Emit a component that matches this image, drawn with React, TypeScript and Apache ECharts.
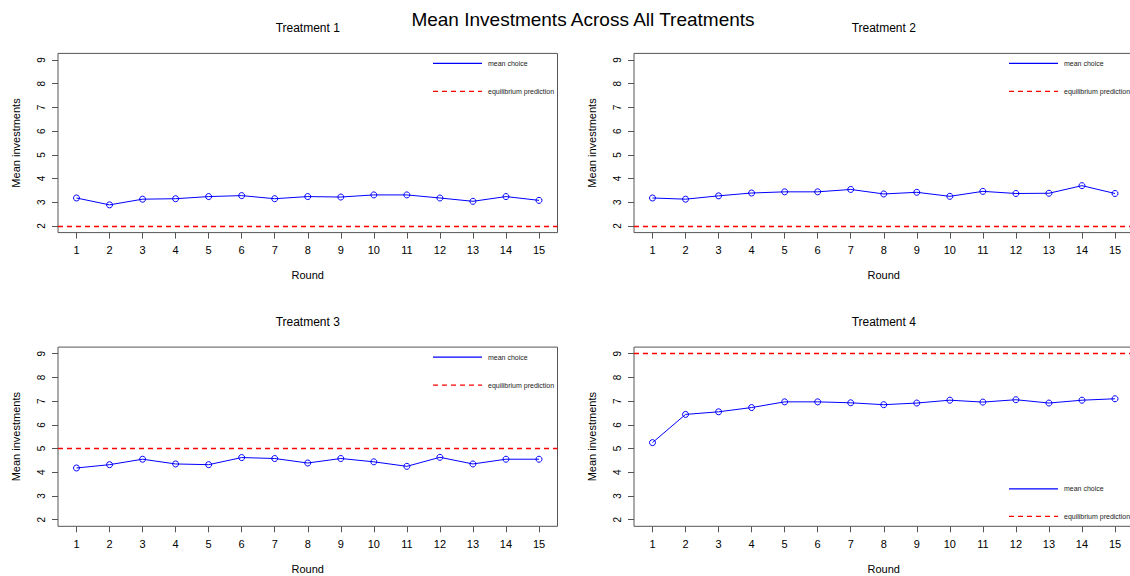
import React, { useEffect, useRef } from "react";
import * as echarts from "echarts";

const rounds = [1, 2, 3, 4, 5, 6, 7, 8, 9, 10, 11, 12, 13, 14, 15];
const yTicks = [2, 3, 4, 5, 6, 7, 8, 9];
const treatmentTitles = ["Treatment 1", "Treatment 2", "Treatment 3", "Treatment 4"];
const meanT1 = [3.18, 2.89, 3.13, 3.15, 3.24, 3.28, 3.15, 3.24, 3.22, 3.31, 3.31, 3.18, 3.04, 3.24, 3.08];
const meanT2 = [3.18, 3.13, 3.27, 3.39, 3.44, 3.44, 3.54, 3.35, 3.42, 3.25, 3.46, 3.37, 3.38, 3.7, 3.37];
const meanT3 = [4.18, 4.32, 4.55, 4.35, 4.32, 4.62, 4.58, 4.39, 4.58, 4.44, 4.25, 4.63, 4.35, 4.55, 4.55];
const meanT4 = [5.25, 6.44, 6.55, 6.73, 6.97, 6.97, 6.93, 6.85, 6.92, 7.04, 6.96, 7.06, 6.92, 7.04, 7.1];
const equilibrium = [2, 2, 5, 9];
const legendLabels = ["mean choice", "equilibrium prediction"];
const mainTitle = "Mean Investments Across All Treatments";
const xAxisTitle = "Round";
const yAxisTitle = "Mean investments";

const FONT = "'Liberation Sans', Arial, Helvetica, sans-serif";
const BLUE = "#0000ff";
const RED = "#ff0000";
const AXIS = "#555";

const boxes = [
  { left: 58, top: 53.4, width: 499.5, height: 179.2, legendBottom: false },
  { left: 634, top: 53.4, width: 499.5, height: 179.2, legendBottom: false },
  { left: 58, top: 347.1, width: 499.5, height: 179.2, legendBottom: false },
  { left: 634, top: 347.1, width: 499.5, height: 179.2, legendBottom: true },
];

export default function App() {
  const ref = useRef<HTMLDivElement>(null);
  useEffect(() => {
    const chart = echarts.init(ref.current as HTMLDivElement, null, { renderer: "svg" });
    const means = [meanT1, meanT2, meanT3, meanT4];

    const xMin = rounds[0] - (rounds[rounds.length - 1] - rounds[0]) * 0.04;
    const xMax = rounds[rounds.length - 1] + (rounds[rounds.length - 1] - rounds[0]) * 0.04;
    const yMin = yTicks[0] - (yTicks[yTicks.length - 1] - yTicks[0]) * 0.04;
    const yMax = yTicks[yTicks.length - 1] + (yTicks[yTicks.length - 1] - yTicks[0]) * 0.04;

    const grid = boxes.map((b) => ({
      left: b.left,
      top: b.top,
      width: b.width,
      height: b.height,
      show: true,
      borderColor: AXIS,
      borderWidth: 1,
      backgroundColor: "transparent",
      containLabel: false,
      outerBoundsMode: "none",
    }));

    const xAxis = boxes.map((_, i) => ({
      type: "value",
      gridIndex: i,
      min: xMin,
      max: xMax,
      name: xAxisTitle,
      nameLocation: "middle",
      nameGap: 37,
      nameTextStyle: { fontFamily: FONT, fontSize: 11, color: "#000" },
      axisLine: { show: false },
      axisTick: {
        show: true,
        customValues: rounds,
        length: 6,
        lineStyle: { color: AXIS, width: 1 },
      },
      axisLabel: {
        show: true,
        customValues: rounds,
        margin: 12,
        fontFamily: FONT,
        fontSize: 11,
        color: "#000",
      },
      splitLine: { show: false },
    }));

    const yAxis = boxes.map((_, i) => ({
      type: "value",
      gridIndex: i,
      min: yMin,
      max: yMax,
      name: yAxisTitle,
      nameLocation: "middle",
      nameRotate: 90,
      nameGap: 37,
      nameTextStyle: { fontFamily: FONT, fontSize: 11, color: "#000" },
      axisLine: { show: false },
      axisTick: {
        show: true,
        customValues: yTicks,
        length: 6,
        lineStyle: { color: AXIS, width: 1 },
      },
      axisLabel: {
        show: true,
        customValues: yTicks,
        rotate: 90,
        margin: 12,
        fontFamily: FONT,
        fontSize: 10,
        color: "#000",
      },
      splitLine: { show: false },
    }));

    const series = means.map((vals, i) => ({
      type: "line",
      name: legendLabels[0],
      xAxisIndex: i,
      yAxisIndex: i,
      data: rounds.map((r, k) => [r, vals[k]]),
      symbol: "circle",
      symbolSize: 6,
      showSymbol: true,
      lineStyle: { color: BLUE, width: 1 },
      itemStyle: { color: "rgba(0,0,0,0)", borderColor: BLUE, borderWidth: 1 },
      emphasis: { disabled: true },
      silent: true,
      z: 3,
      markLine: {
        silent: true,
        symbol: ["none", "none"],
        label: { show: false },
        lineStyle: { color: RED, type: [5, 4], width: 1.3, opacity: 1 },
        itemStyle: { color: RED },
        data: [{ yAxis: equilibrium[i] }],
        emphasis: { disabled: true },
        z: 4,
      },
    }));

    const graphic: any[] = [];
    graphic.push({
      type: "text",
      x: 583,
      y: 19,
      style: {
        text: mainTitle,
        fontFamily: FONT,
        fontSize: 19,
        fill: "#000",
        textAlign: "center",
        textVerticalAlign: "middle",
      },
    });
    boxes.forEach((b, i) => {
      graphic.push({
        type: "text",
        x: b.left + b.width / 2,
        y: b.top - 25.5,
        style: {
          text: treatmentTitles[i],
          fontFamily: FONT,
          fontSize: 12,
          fill: "#000",
          textAlign: "center",
          textVerticalAlign: "middle",
        },
      });
      const ly1 = b.legendBottom ? b.top + b.height - 37.5 : b.top + 10;
      const ly2 = b.legendBottom ? b.top + b.height - 10 : b.top + 38;
      const lx1 = b.left + 375;
      const lx2 = b.left + 424;
      const tx = b.left + 430;
      graphic.push({
        type: "line",
        subPixelOptimize: false,
        shape: { x1: lx1, y1: ly1, x2: lx2, y2: ly1 },
        style: { stroke: BLUE, lineWidth: 1.3 },
      });
      graphic.push({
        type: "line",
        subPixelOptimize: false,
        shape: { x1: lx1, y1: ly2, x2: lx2, y2: ly2 },
        style: { stroke: RED, lineWidth: 1.3, lineDash: [5, 4] },
      });
      graphic.push({
        type: "text",
        x: tx,
        y: ly1,
        style: {
          text: legendLabels[0],
          fontFamily: FONT,
          fontSize: 7,
          fill: "#222",
          textAlign: "left",
          textVerticalAlign: "middle",
        },
      });
      graphic.push({
        type: "text",
        x: tx,
        y: ly2,
        style: {
          text: legendLabels[1],
          fontFamily: FONT,
          fontSize: 7,
          fill: "#222",
          textAlign: "left",
          textVerticalAlign: "middle",
        },
      });
    });

    chart.setOption({
      animation: false,
      backgroundColor: "#ffffff",
      textStyle: { fontFamily: FONT },
      grid,
      xAxis,
      yAxis,
      series,
      graphic,
    } as any);
    return () => chart.dispose();
  }, []);
  return (
    <div
      ref={ref}
      style={{ position: "absolute", left: 0, top: 0, width: 1130, height: 576, background: "#fff" }}
    />
  );
}
